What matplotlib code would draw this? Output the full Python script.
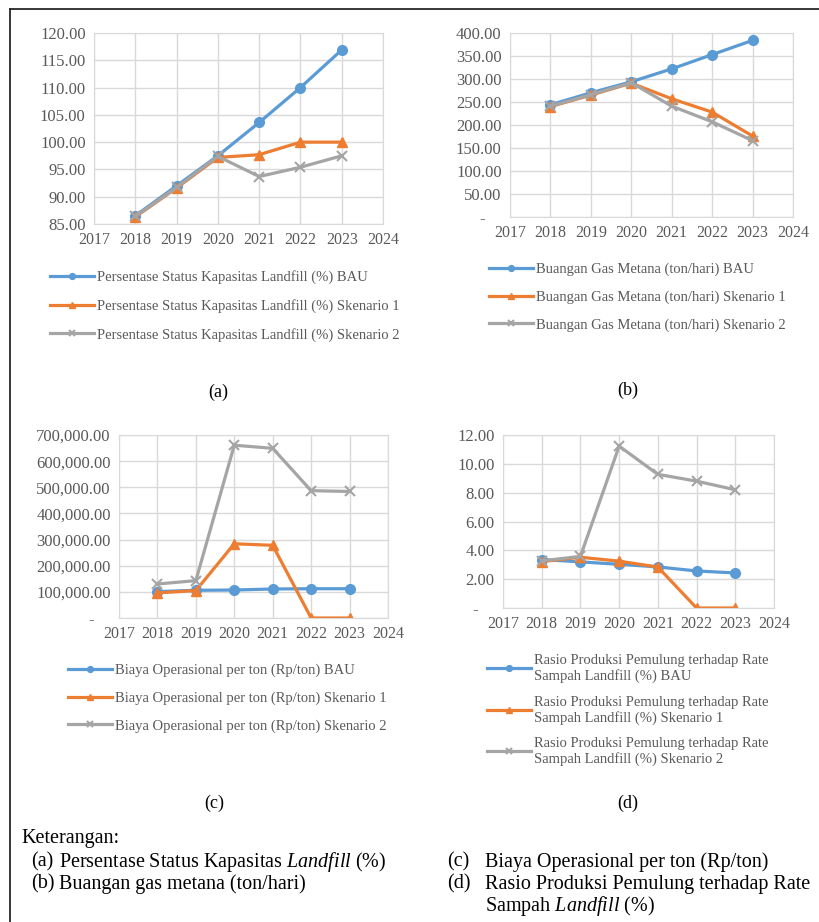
import matplotlib
matplotlib.use('Agg')
import matplotlib.pyplot as plt
from matplotlib.lines import Line2D
from matplotlib.ticker import FuncFormatter, MultipleLocator

plt.rcParams['font.family'] = ['Liberation Serif', 'DejaVu Serif']
plt.rcParams['mathtext.fontset'] = 'custom'
plt.rcParams['mathtext.rm'] = 'Liberation Serif'
plt.rcParams['mathtext.it'] = 'Liberation Serif:italic'

years = [2018, 2019, 2020, 2021, 2022, 2023]

# (a) Persentase Status Kapasitas Landfill (%)
kap_bau = [86.5, 92.0, 97.5, 103.6, 110.0, 116.9]
kap_sk1 = [86.3, 91.6, 97.2, 97.7, 100.0, 100.0]
kap_sk2 = [86.4, 91.7, 97.4, 93.7, 95.4, 97.5]

# (b) Buangan Gas Metana (ton/hari)
gas_bau = [244, 270, 294, 322, 353, 384]
gas_sk1 = [240, 265, 291, 257, 228, 176]
gas_sk2 = [241, 266, 292, 241, 207, 166]

# (c) Biaya Operasional per ton (Rp/ton)
biaya_bau = [101000, 106000, 107000, 111000, 112000, 112000]
biaya_sk1 = [96000, 105000, 284000, 278000, 0, 0]
biaya_sk2 = [130000, 143000, 661000, 649000, 487000, 484000]

# (d) Rasio Produksi Pemulung terhadap Rate Sampah Landfill (%)
rasio_bau = [3.36, 3.20, 3.03, 2.85, 2.57, 2.43]
rasio_sk1 = [3.22, 3.52, 3.25, 2.84, 0.0, 0.0]
rasio_sk2 = [3.27, 3.58, 11.23, 9.27, 8.80, 8.20]

BLUE = '#5B9BD5'
ORANGE = '#ED7D31'
GRAY = '#A5A5A5'
TXT = '#595959'

W, H = 819, 922
fig = plt.figure(figsize=(W / 100, H / 100), dpi=100)


def fx(px):
    return px / W


def fy(py):
    return 1 - py / H


def make_ax(l, t, r, b):
    return fig.add_axes([fx(l), fy(b), fx(r) - fx(l), fy(t) - fy(b)])


def fmt_num(v, pos, comma=False):
    if abs(v) < 1e-9:
        return '-    '
    if comma:
        return '{:,.2f}'.format(v)
    return '{:.2f}'.format(v)


def style(ax, ylo, yhi, step, comma=False):
    ax.set_xlim(2017, 2024)
    ax.set_ylim(ylo, yhi)
    ax.xaxis.set_major_locator(MultipleLocator(1))
    ax.yaxis.set_major_locator(MultipleLocator(step))
    ax.yaxis.set_major_formatter(FuncFormatter(lambda v, p: fmt_num(v, p, comma)))
    ax.grid(True, color='#D9D9D9', linewidth=1.0)
    ax.set_axisbelow(True)
    for s in ax.spines.values():
        s.set_color('#D9D9D9')
    ax.tick_params(length=0, labelcolor=TXT, pad=6)
    ax.tick_params(axis='x', labelsize=11.5)
    ax.tick_params(axis='y', labelsize=12)


def plot3(ax, a, b, c, labels):
    h1, = ax.plot(years, a, color=BLUE, lw=2.3, marker='o', ms=7, label=labels[0])
    h2, = ax.plot(years, b, color=ORANGE, lw=2.3, marker='^', ms=7, label=labels[1])
    h3, = ax.plot(years, c, color=GRAY, lw=2.3, marker='x', ms=7, mew=1.5, label=labels[2])
    return [h1, h2, h3]


def legend(ax, handles, x, y, spacing=1.0, linesp=1.2):
    leg = ax.legend(handles=handles, loc='upper left', bbox_to_anchor=(fx(x), fy(y)),
                    bbox_transform=fig.transFigure, frameon=False, fontsize=10.5,
                    labelcolor=TXT, handlelength=3.0, handletextpad=0.25,
                    labelspacing=spacing, markerscale=0.6, borderaxespad=0, borderpad=0)
    for t in leg.get_texts():
        t.set_linespacing(linesp)
    return leg


# (a)
ax_a = make_ax(94, 33, 383, 224)
style(ax_a, 85, 120, 5)
hs = plot3(ax_a, kap_bau, kap_sk1, kap_sk2,
           ['Persentase Status Kapasitas Landfill (%) BAU',
            'Persentase Status Kapasitas Landfill (%) Skenario 1',
            'Persentase Status Kapasitas Landfill (%) Skenario 2'])
legend(ax_a, hs, 50, 270, spacing=1.02)

# (b)
ax_b = make_ax(510, 33, 793, 217)
style(ax_b, 0, 400, 50)
hs = plot3(ax_b, gas_bau, gas_sk1, gas_sk2,
           ['Buangan Gas Metana (ton/hari) BAU',
            'Buangan Gas Metana (ton/hari) Skenario 1',
            'Buangan Gas Metana (ton/hari) Skenario 2'])
legend(ax_b, hs, 489, 263, spacing=0.97)

# (c)
ax_c = make_ax(119, 435, 388, 618)
style(ax_c, 0, 700000, 100000, comma=True)
hs = plot3(ax_c, biaya_bau, biaya_sk1, biaya_sk2,
           ['Biaya Operasional per ton (Rp/ton) BAU',
            'Biaya Operasional per ton (Rp/ton) Skenario 1',
            'Biaya Operasional per ton (Rp/ton) Skenario 2'])
legend(ax_c, hs, 68, 664, spacing=0.97)

# (d)
ax_d = make_ax(503, 435, 774, 608)
style(ax_d, 0, 12, 2)
hs = plot3(ax_d, rasio_bau, rasio_sk1, rasio_sk2,
           ['Rasio Produksi Pemulung terhadap Rate\nSampah Landfill (%) BAU',
            'Rasio Produksi Pemulung terhadap Rate\nSampah Landfill (%) Skenario 1',
            'Rasio Produksi Pemulung terhadap Rate\nSampah Landfill (%) Skenario 2'])
legend(ax_d, hs, 487, 654, spacing=0.85, linesp=1.2)

# panel letters
for lbl, x, y in [('(a)', 218, 392), ('(b)', 628, 390), ('(c)', 214, 803), ('(d)', 628, 803)]:
    fig.text(fx(x), fy(y), lbl, ha='center', va='center', fontsize=13)

# keterangan
fs = 14.5
fig.text(fx(21), fy(838), 'Keterangan:', ha='left', va='center', fontsize=fs)
fig.text(fx(31), fy(862), '(a)', ha='left', va='center', fontsize=fs)
fig.text(fx(59), fy(862), 'Persentase Status Kapasitas $\\it{Landfill}$ (%)', ha='left', va='center', fontsize=fs)
fig.text(fx(31), fy(884), '(b)', ha='left', va='center', fontsize=fs)
fig.text(fx(59), fy(884), 'Buangan gas metana (ton/hari)', ha='left', va='center', fontsize=fs)
fig.text(fx(447), fy(862), '(c)', ha='left', va='center', fontsize=fs)
fig.text(fx(485), fy(862), 'Biaya Operasional per ton (Rp/ton)', ha='left', va='center', fontsize=fs)
fig.text(fx(447), fy(884), '(d)', ha='left', va='center', fontsize=fs)
fig.text(fx(485), fy(884), 'Rasio Produksi Pemulung terhadap Rate', ha='left', va='center', fontsize=fs)
fig.text(fx(485), fy(906), 'Sampah $\\it{Landfill}$ (%)', ha='left', va='center', fontsize=fs)

# outer frame
fig.add_artist(Line2D([fx(10), fx(10)], [fy(9), 0], color='#262626', lw=1.3))
fig.add_artist(Line2D([fx(10), 1], [fy(9), fy(9)], color='#262626', lw=1.3))

fig.savefig('out.png', dpi=100)
